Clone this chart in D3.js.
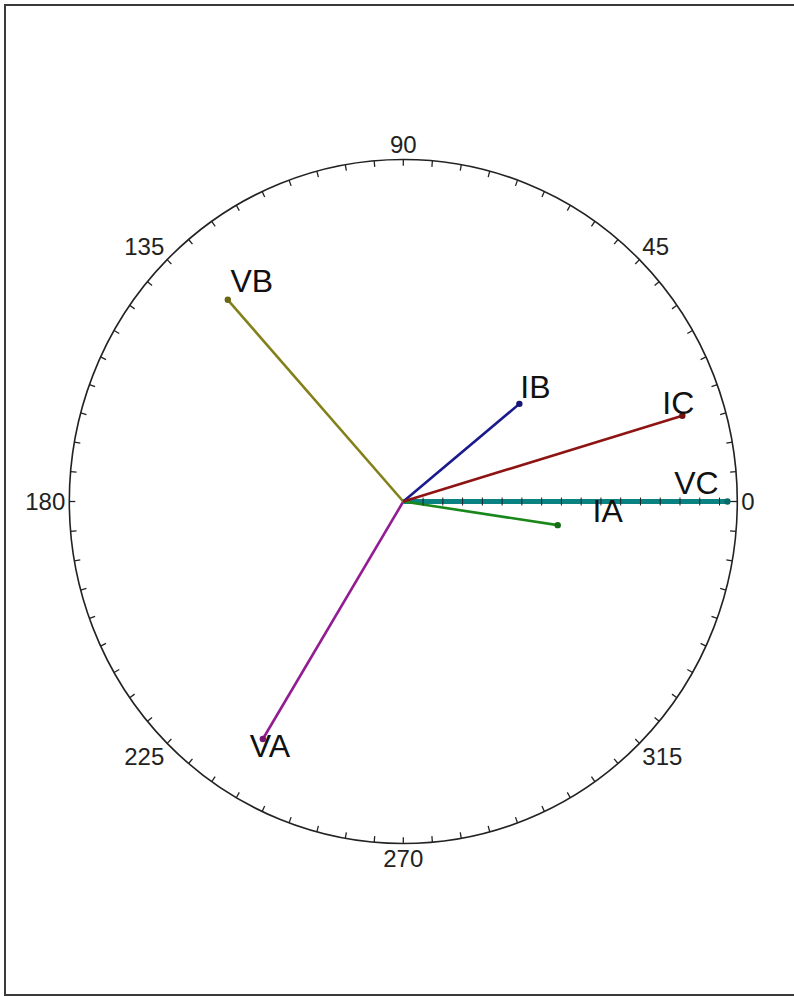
<!DOCTYPE html>
<html>
<head>
<meta charset="utf-8">
<script src="https://cdn.jsdelivr.net/npm/d3@7"></script>
<style>
  body { margin: 0; background: #fff; }
  svg { display: block; font-family: "Liberation Sans", Arial, sans-serif; }
</style>
</head>
<body>
<div id="phasorChart"></div>
<script>
// phasor data (magnitude in chart units, angle in degrees)
var phasorNames = ["VA", "VB", "VC", "IA", "IB", "IC"];
var phasorMags = [137.2, 133.5, 164, 79, 76, 147.4];
var phasorAngles = [238.8, 131.7, 0, 351.5, 39.4, 16.7];
var phasorColors = ["#921c92", "#828018", "#0a8282", "#1a871a", "#1a1a8e", "#8e1414"];

var angleLabels = [0, 45, 90, 135, 180, 225, 270, 315];
var radialTicks = [10, 20, 30, 40, 50, 60, 70, 80, 90, 100, 110, 120, 130, 140, 150, 160];
var radialMax = 169;

var width = 794, height = 997;
var cx = 403.3, cy = 501.5, R = 334, yStretch = 1.024;

var rScale = d3.scaleLinear().domain([0, radialMax]).range([0, R]);
var aScale = d3.scaleLinear().domain([0, 360]).range([0, 2 * Math.PI]);

var proj = function(angle, r) {
	var a = aScale(angle);
	return [cx + r * Math.cos(a), cy - r * yStretch * Math.sin(a)];
}

// label nudges relative to the phasor tip
var labelNudge = {
	VA: [7, 6], VB: [24, -19], VC: [-31, -19],
	IA: [50, -15], IB: [16, -17], IC: [-4, -13]
};

var svg = d3.select("#phasorChart").append("svg")
	.attr("width", width)
	.attr("height", height);

// frame
svg.append("rect")
	.attr("x", 5).attr("y", 5)
	.attr("width", 820).attr("height", 990)
	.style("fill", "none")
	.style("stroke", "#3a3a3a")
	.style("stroke-width", 2);

// outer circle
svg.append("ellipse")
	.attr("cx", cx).attr("cy", cy)
	.attr("rx", R).attr("ry", R * yStretch)
	.style("fill", "none")
	.style("stroke", "#222")
	.style("stroke-width", 1.6);

// angle ticks every 5 degrees, pointing inward
var angleTicks = d3.range(0, 360, 5);
svg.selectAll(".aTick").data(angleTicks).enter()
	.append("line")
	.attr("class", "aTick")
	.attr("x1", function(d) { return proj(d, R)[0]; })
	.attr("y1", function(d) { return proj(d, R)[1]; })
	.attr("x2", function(d) { return proj(d, R - 6)[0]; })
	.attr("y2", function(d) { return proj(d, R - 6)[1]; })
	.style("stroke", "#222")
	.style("stroke-width", 1.3);

// angle labels
svg.selectAll(".aLabel").data(angleLabels).enter()
	.append("text")
	.attr("class", "aLabel")
	.attr("x", function(d) { return proj(d, R + 4)[0]; })
	.attr("y", function(d) { return proj(d, R + 6)[1]; })
	.attr("text-anchor", function(d) {
		var c = Math.cos(aScale(d));
		return c > 0.01 ? "start" : (c < -0.01 ? "end" : "middle");
	})
	.attr("dy", function(d) {
		var s = Math.sin(aScale(d));
		return s > 0.01 ? "0em" : (s < -0.01 ? "0.72em" : "0.36em");
	})
	.style("font-size", "24px")
	.style("fill", "#222")
	.text(function(d) { return d; });

// radial axis line along 0 degrees
svg.append("line")
	.attr("x1", cx).attr("y1", cy)
	.attr("x2", cx + R).attr("y2", cy)
	.style("stroke", "#222")
	.style("stroke-width", 1);

// phasor lines
var idx = d3.range(phasorNames.length);
svg.selectAll(".phasor").data(idx).enter()
	.append("line")
	.attr("class", "phasor")
	.attr("x1", cx).attr("y1", cy)
	.attr("x2", function(i) { return proj(phasorAngles[i], rScale(phasorMags[i]))[0]; })
	.attr("y2", function(i) { return proj(phasorAngles[i], rScale(phasorMags[i]))[1]; })
	.style("stroke", function(i) { return phasorColors[i]; })
	.style("stroke-width", function(i) { return phasorNames[i] == "VC" ? 5 : 2.6; });

// radial ticks on top of the 0 degree axis
svg.selectAll(".rTick").data(radialTicks).enter()
	.append("line")
	.attr("class", "rTick")
	.attr("x1", function(d) { return cx + rScale(d); })
	.attr("x2", function(d) { return cx + rScale(d); })
	.attr("y1", cy - 4).attr("y2", cy + 4)
	.style("stroke", "#222")
	.style("stroke-width", 1);

// tip dots
svg.selectAll(".tip").data(idx).enter()
	.append("circle")
	.attr("class", "tip")
	.attr("cx", function(i) { return proj(phasorAngles[i], rScale(phasorMags[i]))[0]; })
	.attr("cy", function(i) { return proj(phasorAngles[i], rScale(phasorMags[i]))[1]; })
	.attr("r", 3.2)
	.style("fill", function(i) { return d3.color(phasorColors[i]).darker(0.6); });

// phasor names
svg.selectAll(".pLabel").data(idx).enter()
	.append("text")
	.attr("class", "pLabel")
	.attr("x", function(i) { return proj(phasorAngles[i], rScale(phasorMags[i]))[0] + labelNudge[phasorNames[i]][0]; })
	.attr("y", function(i) { return proj(phasorAngles[i], rScale(phasorMags[i]))[1] + labelNudge[phasorNames[i]][1]; })
	.attr("text-anchor", "middle")
	.attr("dy", "0.36em")
	.style("font-size", "32px")
	.style("fill", "#111")
	.text(function(i) { return phasorNames[i]; });
</script>
</body>
</html>
